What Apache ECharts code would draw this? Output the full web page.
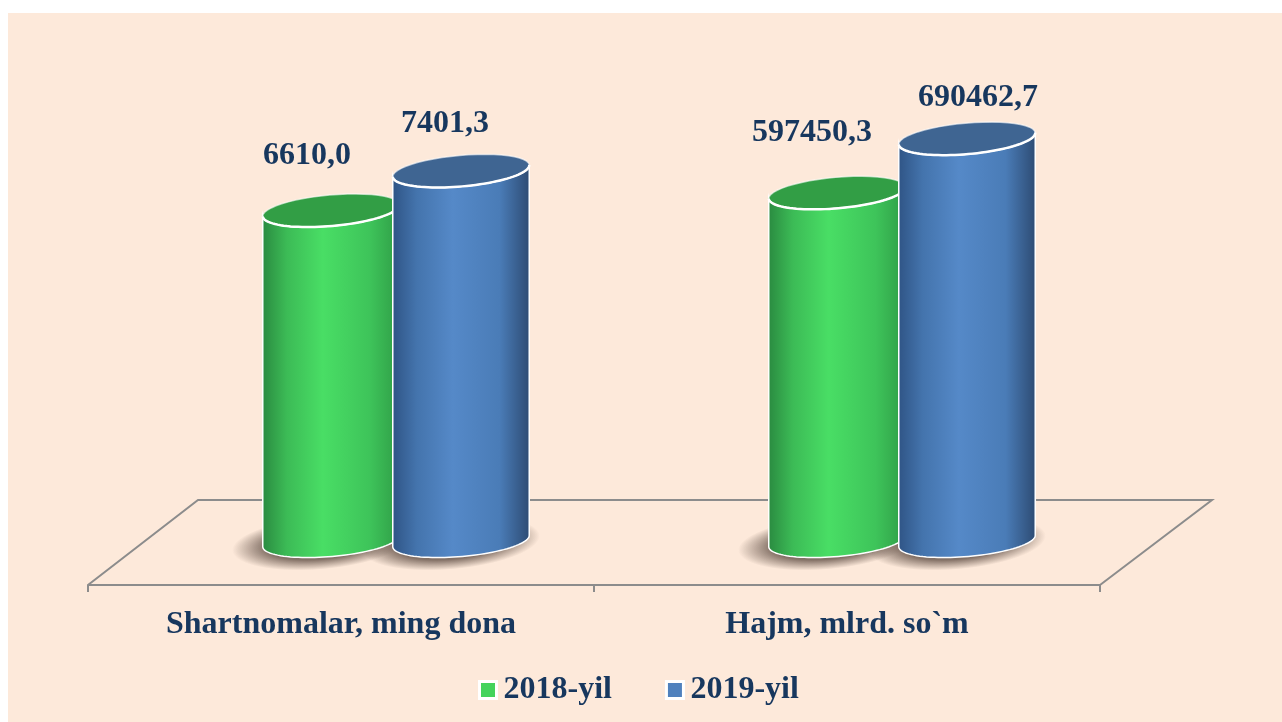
<!DOCTYPE html>
<html>
<head>
<meta charset="utf-8">
<title>Shartnomalar</title>
<script src="https://cdn.jsdelivr.net/npm/echarts@6/dist/echarts.min.js"></script>
<style>
  html, body { margin: 0; padding: 0; background: #fff; overflow: hidden; }
  #main { position: absolute; left: 8px; top: 13px; width: 1274px; height: 709px; background: #fde9da; }
</style>
</head>
<body>
<div id="main"></div>
<script>
var categories = ['Shartnomalar, ming dona', 'Hajm, mlrd. so`m'];
var years = ['2018-yil', '2019-yil'];
var values2018 = [6610.0, 597450.3];
var values2019 = [7401.3, 690462.7];
var axisMax = [8800, 755000];

var textColor = '#17375e';
var fontFamily = '"Liberation Serif", serif';

// body gradient, lid and legend colour of each year
var looks = [
    { lid: '#329e45', legend: '#43d35c', stops: ['#2a8a40', '#3cbb56', '#49de65', '#3ec45a', '#2f9c46'] },
    { lid: '#3f6592', legend: '#4f81bd', stops: ['#2f5485', '#4474ad', '#5589c8', '#4a7cb7', '#2d4b73'] }
];
var stopAt = [0, 0.18, 0.44, 0.78, 1];

// the picture draws the columns on the 3D floor, right of the axis bands
var depthShift = 55;
var halfStep = 65;
var rx = 68.5, ry = 15.5, tilt = 5 * Math.PI / 180;
// value labels are hand placed in the original: [year][category] = [dx, dy]
var labelNudge = [
    [[-24, -55], [-25, -60]],
    [[-16, -47], [11, -41]]
];

function ellipsePoint(cx, cy, t) {
    return [
        cx + rx * Math.cos(t) * Math.cos(tilt) + ry * Math.sin(t) * Math.sin(tilt),
        cy - rx * Math.cos(t) * Math.sin(tilt) + ry * Math.sin(t) * Math.cos(tilt)
    ];
}

function arc(cx, cy, from, to) {
    var pts = [];
    for (var i = 0; i <= 48; i++) {
        pts.push(ellipsePoint(cx, cy, from + (to - from) * i / 48));
    }
    return pts;
}

function formatValue(v) {
    return v.toFixed(1).replace('.', ',');
}

function shadowRenderer(yearIdx) {
    return function (params, api) {
        var base = api.coord([0, 0]);
        var cx = base[0] + depthShift + (yearIdx === 0 ? -halfStep : halfStep);
        return {
            type: 'circle',
            x: cx - 10,
            y: base[1] + 2,
            scaleX: 4.05,
            scaleY: 1.2,
            rotation: tilt,
            shape: { cx: 0, cy: 0, r: 22 },
            style: {
                fill: {
                    type: 'radial', x: 0.5, y: 0.5, r: 0.5,
                    colorStops: [
                        { offset: 0, color: 'rgba(110,92,82,0.95)' },
                        { offset: 0.62, color: 'rgba(110,92,82,0.85)' },
                        { offset: 1, color: 'rgba(110,92,82,0)' }
                    ]
                }
            }
        };
    };
}

function cylinderRenderer(yearIdx, catIdx) {
    var look = looks[yearIdx];
    return function (params, api) {
        var top = api.coord([0, api.value(1)]);
        var base = api.coord([0, 0]);
        var cx = top[0] + depthShift + (yearIdx === 0 ? -halfStep : halfStep);
        var topY = top[1], baseY = base[1];
        var nudge = labelNudge[yearIdx][catIdx];
        var stops = look.stops.map(function (c, i) {
            return { offset: stopAt[i], color: c };
        });
        var outline = arc(cx, baseY, 0, Math.PI).concat(arc(cx, topY, Math.PI, 0));
        return {
            type: 'group',
            children: [
                {
                    type: 'polygon',
                    shape: { points: outline },
                    style: {
                        fill: { type: 'linear', x: 0, y: 0, x2: 1, y2: 0, colorStops: stops },
                        stroke: '#fff', lineWidth: 1.5
                    }
                },
                {
                    type: 'polygon',
                    shape: { points: arc(cx, topY, 0, Math.PI * 2) },
                    style: { fill: look.lid, stroke: 'rgba(255,255,255,0.6)', lineWidth: 1.5 }
                },
                {
                    type: 'polyline',
                    shape: { points: arc(cx, topY, 0, Math.PI) },
                    style: { fill: null, stroke: '#fff', lineWidth: 2.5 }
                },
                {
                    type: 'text',
                    x: cx + nudge[0],
                    y: topY + nudge[1],
                    style: {
                        text: formatValue(api.value(1)),
                        fill: textColor,
                        font: 'bold 32px ' + fontFamily,
                        align: 'center',
                        verticalAlign: 'middle'
                    }
                }
            ]
        };
    };
}

var yearValues = [values2018, values2019];
var series = [];
categories.forEach(function (cat, c) {
    years.forEach(function (year, y) {
        series.push({
            name: year + ' shadow',
            type: 'custom',
            xAxisIndex: c,
            yAxisIndex: c,
            z: 1,
            silent: true,
            renderItem: shadowRenderer(y),
            data: [[0, yearValues[y][c]]]
        });
    });
    years.forEach(function (year, y) {
        series.push({
            name: year,
            type: 'custom',
            xAxisIndex: c,
            yAxisIndex: c,
            z: 3,
            itemStyle: { color: looks[y].legend },
            renderItem: cylinderRenderer(y, c),
            data: [[0, yearValues[y][c]]]
        });
    });
});

function makeXAxis(idx) {
    return {
        type: 'category',
        gridIndex: idx,
        data: [categories[idx]],
        offset: 44,
        axisLine: { show: true, onZero: false, lineStyle: { color: '#8c8c8c', width: 2 } },
        axisTick: { show: true, length: 7, lineStyle: { color: '#8c8c8c', width: 2 } },
        axisLabel: { color: textColor, fontFamily: fontFamily, fontWeight: 'bold', fontSize: 32, margin: 24 }
    };
}

function makeYAxis(idx) {
    return { type: 'value', gridIndex: idx, min: 0, max: axisMax[idx], show: false };
}

var chart = echarts.init(document.getElementById('main'));
chart.setOption({
    animation: false,
    grid: [
        { left: 80, width: 506, top: 88, height: 440 },
        { left: 586, width: 506, top: 88, height: 440 }
    ],
    xAxis: [makeXAxis(0), makeXAxis(1)],
    yAxis: [makeYAxis(0), makeYAxis(1)],
    legend: {
        data: years.map(function (y, i) {
            return { name: y, itemStyle: { color: looks[i].legend, borderColor: '#fff', borderWidth: 3 } };
        }),
        left: 465,
        top: 656,
        selectedMode: false,
        icon: 'rect',
        itemWidth: 17,
        itemHeight: 17,
        itemGap: 53,
        textStyle: { color: textColor, fontFamily: fontFamily, fontWeight: 'bold', fontSize: 32, padding: [0, 0, 0, 2] }
    },
    // rest of the floor; the front edge is the x axis
    graphic: [{
        type: 'polyline',
        z: 0,
        silent: true,
        shape: { points: [[80, 572], [190, 487], [1204, 487], [1092, 572]] },
        style: { fill: null, stroke: '#8c8c8c', lineWidth: 2 }
    }],
    series: series
});
</script>
</body>
</html>
